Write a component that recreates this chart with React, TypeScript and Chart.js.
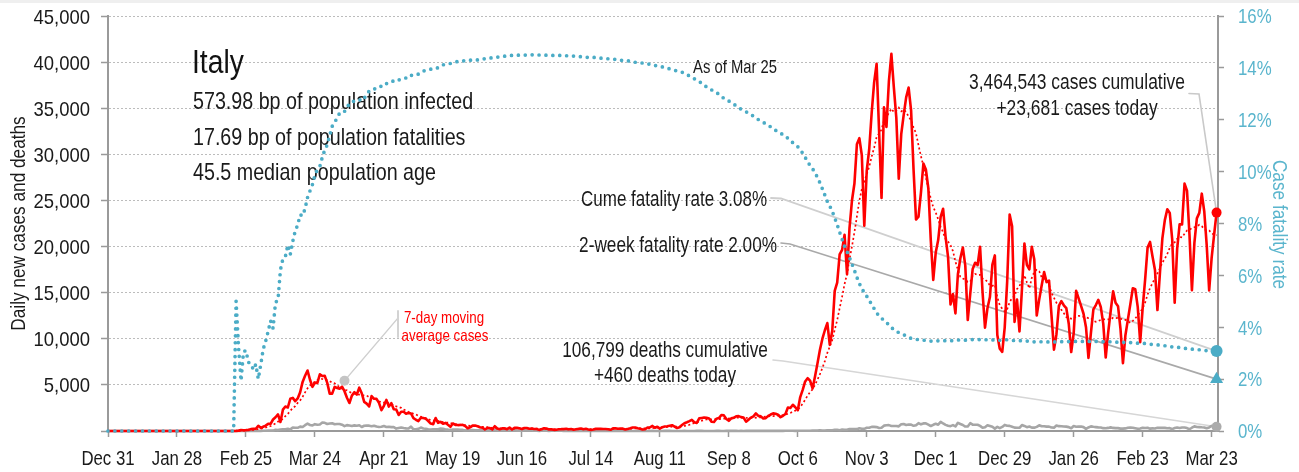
import React, { useEffect, useRef } from 'react';
import { Chart, registerables } from 'chart.js';
Chart.register(...registerables);

// ---------------- data ----------------
const startDate = '2019-12-31';
const lastDate = '2021-03-25';
const xAxisEndDate = '2021-03-25T14:00:00Z';

const xTickDates = [
  '2019-12-31', '2020-01-28', '2020-02-25', '2020-03-24', '2020-04-21', '2020-05-19',
  '2020-06-16', '2020-07-14', '2020-08-11', '2020-09-08', '2020-10-06', '2020-11-03',
  '2020-12-01', '2020-12-29', '2021-01-26', '2021-02-23', '2021-03-23',
];
const xTickLabels = [
  'Dec 31', 'Jan 28', 'Feb 25', 'Mar 24', 'Apr 21', 'May 19', 'Jun 16', 'Jul 14',
  'Aug 11', 'Sep 8', 'Oct 6', 'Nov 3', 'Dec 1', 'Dec 29', 'Jan 26', 'Feb 23', 'Mar 23',
];
const leftTickValues = [5000, 10000, 15000, 20000, 25000, 30000, 35000, 40000, 45000];
const rightTickValues = [0, 2, 4, 6, 8, 10, 12, 14, 16];

// daily new cases, one value per day from 2019-12-31
const casesDaily = [
  0,
  0,0,0,0,0,0,0,0,0,0, 0,0,0,0,0,0,0,0,0,0, 0,0,0,0,0,0,0,0,0,0, 2,
  0,0,0,0,0,0,1,0,0,0, 0,0,0,0,0,0,0,0,0,0, 17,42,93,74,93,131,202,233,240,
  566,342,466,587,769,778,1247,1492,1797,977, 2313,2651,2547,3497,3590,3233,3526,4207,5322,5986, 6557,5560,4789,5249,5210,6153,5959,5974,5217,4050, 4053,
  4782,4668,4585,4805,4316,3599,3039,3836,4204,3951, 4694,4092,3153,2972,2667,3786,3493,3491,3047,2256, 2729,3370,2646,3021,2357,2324,1739,2091,2086,1872,
  1965,1900,1389,1221,1075,1444,1401,1327,1083,802, 744,1402,888,992,789,875,675,451,813,665, 642,652,669,531,300,397,584,593,516,416, 355,
  178,318,321,177,518,270,197,280,283,202, 379,163,346,338,301,210,329,333,251,262, 224,218,122,190,296,259,175,174,126,142,
  187,201,223,235,192,208,138,193,229,276, 188,234,169,114,162,230,233,249,219,218, 190,129,282,306,252,275,255,170,212,289, 386,
  379,295,239,159,190,384,402,552,347,463, 259,412,481,523,574,629,479,320,403,642, 845,947,1071,1210,953,878,1367,1411,1460,1444, 1365,
  996,978,1326,1397,1733,1695,1297,1108,1370,1434, 1597,1616,1501,1458,1008,1229,1452,1585,1907,1638, 1587,1350,1392,1640,1786,1912,1869,1766,1494,1648,
  1851,2548,2499,2844,2578,2257,3678,4458,5372,5724, 5456,4619,5901,7332,8804,10010,10925,11705,9338,10874, 15199,16079,19143,19644,21273,17012,21994,24991,26831,31084, 31758,
  29907,22253,28244,30550,34505,37809,39811,32616,25271,35098, 32961,37978,40902,37255,33979,27354,32191,34283,36176,37242, 34767,28337,22930,23232,25853,29003,28352,26323,20648,16377,
  19350,20709,23225,24099,21052,18887,13720,14842,12756,16999, 18727,19903,17938,12030,14844,17572,18236,17992,19974,15104, 11212,13318,14522,18040,19037,10407,8913,8585,11210,16202, 23477,
  22211,11831,14245,10800,15378,20331,18020,17533,19978,18627, 12532,14242,15774,17246,16146,16310,12545,8825,10497,13571, 14078,13633,13331,11629,8562,10593,15204,14372,13574,12715, 11252,
  7925,10630,13189,13659,14218,13442,11641,7970,10672,12956, 15146,13908,13532,11068,7351,10386,12074,13762,15479,15370, 13452,9630,13314,16424,19886,20499,18916,17455,
  13114,17083,20884,22865,24036,23641,20765,13902,19749,22409, 22409,26824,26062,21315,15267,20396,23059,23649,25735,23832, 20159,15250,18765,21267,23681,
];

// daily new deaths, one value per day from 2019-12-31
const deathsDaily = [
  0,
  0,0,0,0,0,0,0,0,0,0, 0,0,0,0,0,0,0,0,0,0, 0,0,0,0,0,0,0,0,0,0, 0,
  0,0,0,0,0,0,0,0,0,0, 0,0,0,0,0,0,0,0,0,0, 1,1,1,4,3,2,5,4,8,
  5,18,27,28,41,49,36,133,97,168, 196,189,250,175,368,349,345,475,427,627, 793,651,601,743,683,712,919,889,756,812, 837,
  727,760,766,681,525,636,604,542,610,570, 619,431,566,602,578,525,575,482,433,454, 534,437,464,420,415,260,333,382,323,285,
  269,474,174,195,236,369,274,243,194,165, 179,172,195,262,242,153,145,99,162,161, 156,130,119,50,92,78,117,70,87,111, 75,
  60,55,71,88,85,72,53,65,79,71, 53,56,78,44,26,34,66,47,47,49, 24,23,18,30,30,30,8,24,23,22,
  21,30,15,21,7,8,30,15,12,12, 7,9,13,17,20,11,14,9,12,3, 13,11,15,10,5,5,5,11,6,10, 3,
  5,5,13,5,10,6,6,13,2,4, 4,6,10,9,10,3,4,5,7,6, 9,7,4,7,5,13,13,9,1,5, 4,
  8,6,10,11,6,8,10,10,10,10, 10,6,14,7,9,9,10,10,24,15, 13,20,15,15,17,17,15,17,16,16,
  23,24,23,27,18,28,31,22,28,29, 26,39,41,43,83,55,47,69,73,89, 127,136,91,151,128,141,221,205,217,199, 297,
  233,236,353,352,445,446,425,331,356,580, 623,636,550,544,546,504,731,753,653,699, 692,562,630,853,722,822,827,686,541,672,
  785,684,993,814,662,564,528,634,499,887, 761,649,484,491,846,680,683,674,553,352, 415,628,553,459,261,445,305,445,659,575, 555,
  462,364,347,348,649,548,414,483,361,361, 448,616,507,522,475,477,377,361,603,524, 521,492,472,420,299,541,467,492,477,421, 237,
  385,499,456,422,391,385,307,292,336,391, 336,316,311,258,258,283,347,369,353,297, 232,274,356,318,343,253,280,274,
  344,339,343,339,297,307,207,318,376,332, 373,380,317,190,354,502,431,423,401,386, 300,386,551,460,460,
];

const cumeFatalityRate = 3.08;
const twoWeekFatalityRate = 2.0;
const maLabelAnchor = { date: '2020-04-05', value: 5450 };

const countryName = 'Italy';
const countryStats = [
  '573.98 bp of population infected',
  '17.69 bp of population fatalities',
  '45.5 median population age',
];
const asOfLabel = 'As of Mar 25';
const casesNote = ['3,464,543 cases cumulative', '+23,681 cases today'];
const cumeNote = 'Cume fatality rate 3.08%';
const twoWeekNote = '2-week fatality rate 2.00%';
const deathsNote = ['106,799 deaths cumulative', '+460 deaths today'];
const maNote = ['7-day moving', 'average cases'];
const leftTitle = 'Daily new cases and deaths';
const rightTitle = 'Case fatality rate';

// ---------------- helpers ----------------
const DAY = 86400000;
const dayOf = (d: string) => (Date.parse(d) - Date.parse(startDate)) / DAY;

const FONT = '"Liberation Sans", Arial, sans-serif';
const NARROW = 0.81;
const TEAL = '#4bacc6';
const TEAL_TEXT = '#5ab5cd';
const RED = '#ff0000';
const GREY = '#a6a6a6';
const AXIS = '#9a9a9a';
const TEXT = '#1a1a1a';

function txt(
  ctx: CanvasRenderingContext2D, s: string, x: number, y: number, size: number,
  align: CanvasTextAlign, color: string, sx = NARROW, rot = 0,
) {
  ctx.save();
  ctx.font = `${size}px ${FONT}`;
  ctx.fillStyle = color;
  ctx.textAlign = align;
  ctx.textBaseline = 'alphabetic';
  ctx.translate(x, y);
  if (rot) ctx.rotate(rot);
  ctx.scale(sx, 1);
  ctx.fillText(s, 0, 0);
  ctx.restore();
}

export default function App() {
  const ref = useRef<HTMLCanvasElement | null>(null);

  useEffect(() => {
    if (!ref.current) return;
    const casesPts = casesDaily.map((v, i) => ({ x: i, y: v }));
    const deathsPts = deathsDaily.map((v, i) => ({ x: i, y: v }));
    const maPts = casesDaily.map((_, i) => {
      const from = Math.max(0, i - 6);
      const win = casesDaily.slice(from, i + 1);
      return { x: i, y: win.reduce((a, b) => a + b, 0) / win.length };
    });
    let cc = 0, cd = 0;
    const cfrPts = casesDaily.map((v, i) => {
      cc += v; cd += deathsDaily[i];
      return { x: i, y: cc > 0 ? (cd / cc) * 100 : 0 };
    });
    const lastDay = dayOf(lastDate);
    const lastCases = casesDaily[casesDaily.length - 1];
    const lastDeaths = deathsDaily[deathsDaily.length - 1];
    const tickDays = xTickDates.map(dayOf);

    const plugin = {
      id: 'notes',
      beforeDatasetsDraw(chart: any) {
        const ctx = chart.ctx as CanvasRenderingContext2D;
        const xs = chart.scales.x, ys = chart.scales.y, y1 = chart.scales.y1;
        const xe = xs.getPixelForValue(lastDay);
        ctx.save();
        ctx.lineCap = 'round';
        const conn = (pts: number[][], color: string, w: number) => {
          ctx.strokeStyle = color; ctx.lineWidth = w; ctx.beginPath();
          pts.forEach((p, i) => (i ? ctx.lineTo(p[0], p[1]) : ctx.moveTo(p[0], p[1])));
          ctx.stroke();
        };
        conn([[1189, 93.5], [1199, 94], [xe, ys.getPixelForValue(lastCases)]], '#c9c9c9', 1.6);
        conn([[771, 198], [781, 198.5], [xe, y1.getPixelForValue(cumeFatalityRate)]], '#cfcfcf', 1.8);
        conn([[781, 243], [790, 244], [xe, y1.getPixelForValue(twoWeekFatalityRate)]], '#a9a9a9', 1.6);
        conn([[773, 360], [783, 361], [xe, ys.getPixelForValue(lastDeaths)]], '#d6d6d6', 1.6);
        const mx = xs.getPixelForValue(dayOf(maLabelAnchor.date));
        const my = ys.getPixelForValue(maLabelAnchor.value);
        conn([[mx, my], [398, 318]], '#cfcfcf', 1.2);
        conn([[398, 311], [398, 337]], '#d3d3d3', 2);
        ctx.restore();

        // texts
        txt(ctx, countryName, 192, 73, 34, 'left', '#111', 0.83);
        countryStats.forEach((s, i) => txt(ctx, s, 193, 109 + i * 35.5, 24, 'left', TEXT, 0.82));
        txt(ctx, asOfLabel, 693, 73, 19, 'left', TEXT, 0.78);
        txt(ctx, casesNote[0], 1077, 89, 21.5, 'center', TEXT, 0.81);
        txt(ctx, casesNote[1], 1077, 115, 21.5, 'center', TEXT, 0.81);
        txt(ctx, deathsNote[0], 665, 357, 21.5, 'center', TEXT, 0.8);
        txt(ctx, deathsNote[1], 665, 382, 21.5, 'center', TEXT, 0.8);
        txt(ctx, cumeNote, 767, 206, 21.5, 'right', TEXT, 0.79);
        txt(ctx, twoWeekNote, 777, 252, 21.5, 'right', TEXT, 0.8);
        txt(ctx, maNote[0], 444, 323, 16.5, 'center', RED, 0.81);
        txt(ctx, maNote[1], 445, 341, 16.5, 'center', RED, 0.81);

        // axis titles
        txt(ctx, leftTitle, 25, 223.5, 21, 'center', TEXT, 0.82, -Math.PI / 2);
        txt(ctx, rightTitle, 1273, 224.5, 21, 'center', TEAL_TEXT, 0.82, Math.PI / 2);

        // tick labels
        xTickLabels.forEach((l, i) => txt(ctx, l, xs.getPixelForValue(tickDays[i]), 465, 21, 'center', TEXT, 0.8));
        leftTickValues.forEach((v) =>
          txt(ctx, v.toLocaleString('en-US'), 90, ys.getPixelForValue(v) + 7.5, 21, 'right', TEXT, 0.88));
        rightTickValues.forEach((v) =>
          txt(ctx, `${v}%`, 1238, y1.getPixelForValue(v) + 7.3, 20.5, 'left', TEAL_TEXT, 0.82));
      },
    };

    const marker = (pt: any, color: string, r: number, style = 'circle', axis = 'y') => ({
      data: [pt], yAxisID: axis, showLine: false, pointRadius: r, pointHoverRadius: r,
      pointStyle: style, pointBackgroundColor: color, pointBorderColor: color, pointBorderWidth: 0,
      borderColor: color, order: 0, clip: false,
    });

    const chart = new Chart(ref.current, {
      type: 'line',
      data: {
        datasets: [
          { data: cfrPts, yAxisID: 'y1', borderColor: TEAL, borderWidth: 3.7, borderDash: [0, 6.9],
            borderCapStyle: 'round', pointRadius: 0, order: 1, clip: false } as any,
          { data: casesPts, yAxisID: 'y', borderColor: RED, borderWidth: 2.6, pointRadius: 0,
            borderJoinStyle: 'round', order: 2, clip: false } as any,
          { data: maPts, yAxisID: 'y', borderColor: RED, borderWidth: 1.7, borderDash: [2, 2.5],
            pointRadius: 0, order: 3, clip: false } as any,
          { data: deathsPts, yAxisID: 'y', borderColor: GREY, borderWidth: 2.6, pointRadius: 0,
            borderJoinStyle: 'round', order: 4, clip: false } as any,
          marker({ x: lastDay, y: lastCases }, RED, 5),
          marker({ x: lastDay, y: lastDeaths }, '#ababab', 5),
          marker({ x: lastDay, y: cumeFatalityRate }, TEAL, 6, 'circle', 'y1'),
          marker({ x: lastDay, y: twoWeekFatalityRate }, TEAL, 7.5, 'triangle', 'y1'),
          marker({ x: dayOf(maLabelAnchor.date), y: maLabelAnchor.value }, '#c4c4c4', 5),
        ] as any,
      },
      options: {
        responsive: false,
        animation: false,
        devicePixelRatio: 1,
        layout: { padding: { top: 16, left: 0, right: 0, bottom: 0 } },
        plugins: { legend: { display: false }, tooltip: { enabled: false } },
        elements: { line: { tension: 0 } },
        scales: {
          x: {
            type: 'linear',
            min: 0,
            max: (Date.parse(xAxisEndDate) - Date.parse(startDate)) / DAY,
            afterBuildTicks: (s: any) => { s.ticks = tickDays.map((v) => ({ value: v })); },
            afterFit: (s: any) => { s.height = 41; },
            ticks: { display: false, autoSkip: false, maxRotation: 0 },
            grid: { drawOnChartArea: false, drawTicks: true, tickLength: 6, tickColor: AXIS, tickWidth: 1.5 },
            border: { display: true, color: AXIS, width: 2 },
          },
          y: {
            position: 'left', min: 0, max: 45000,
            afterFit: (s: any) => { s.width = 108; },
            ticks: { display: false, stepSize: 5000 },
            grid: { color: '#bcbcbc', lineWidth: 1, tickLength: 7, tickColor: AXIS, tickWidth: 1.5 },
            border: { display: true, color: AXIS, width: 2, dash: [2, 2] },
          },
          y1: {
            position: 'right', min: 0, max: 16,
            afterFit: (s: any) => { s.width = 81; },
            ticks: { display: false, stepSize: 2 },
            grid: { drawOnChartArea: false, tickLength: 6, tickColor: AXIS, tickWidth: 1.5 },
            border: { display: true, color: AXIS, width: 2 },
          },
        },
      } as any,
      plugins: [plugin],
    });
    return () => chart.destroy();
  }, []);

  return (
    <div style={{ position: 'absolute', left: 0, top: 0, width: 1299, height: 472, background: '#fff' }}>
      <canvas ref={ref} width={1299} height={472} style={{ width: 1299, height: 472, display: 'block' }} />
      <div style={{ position: 'absolute', left: 0, top: 0, width: 1299, height: 3, background: '#efefef' }} />
    </div>
  );
}
